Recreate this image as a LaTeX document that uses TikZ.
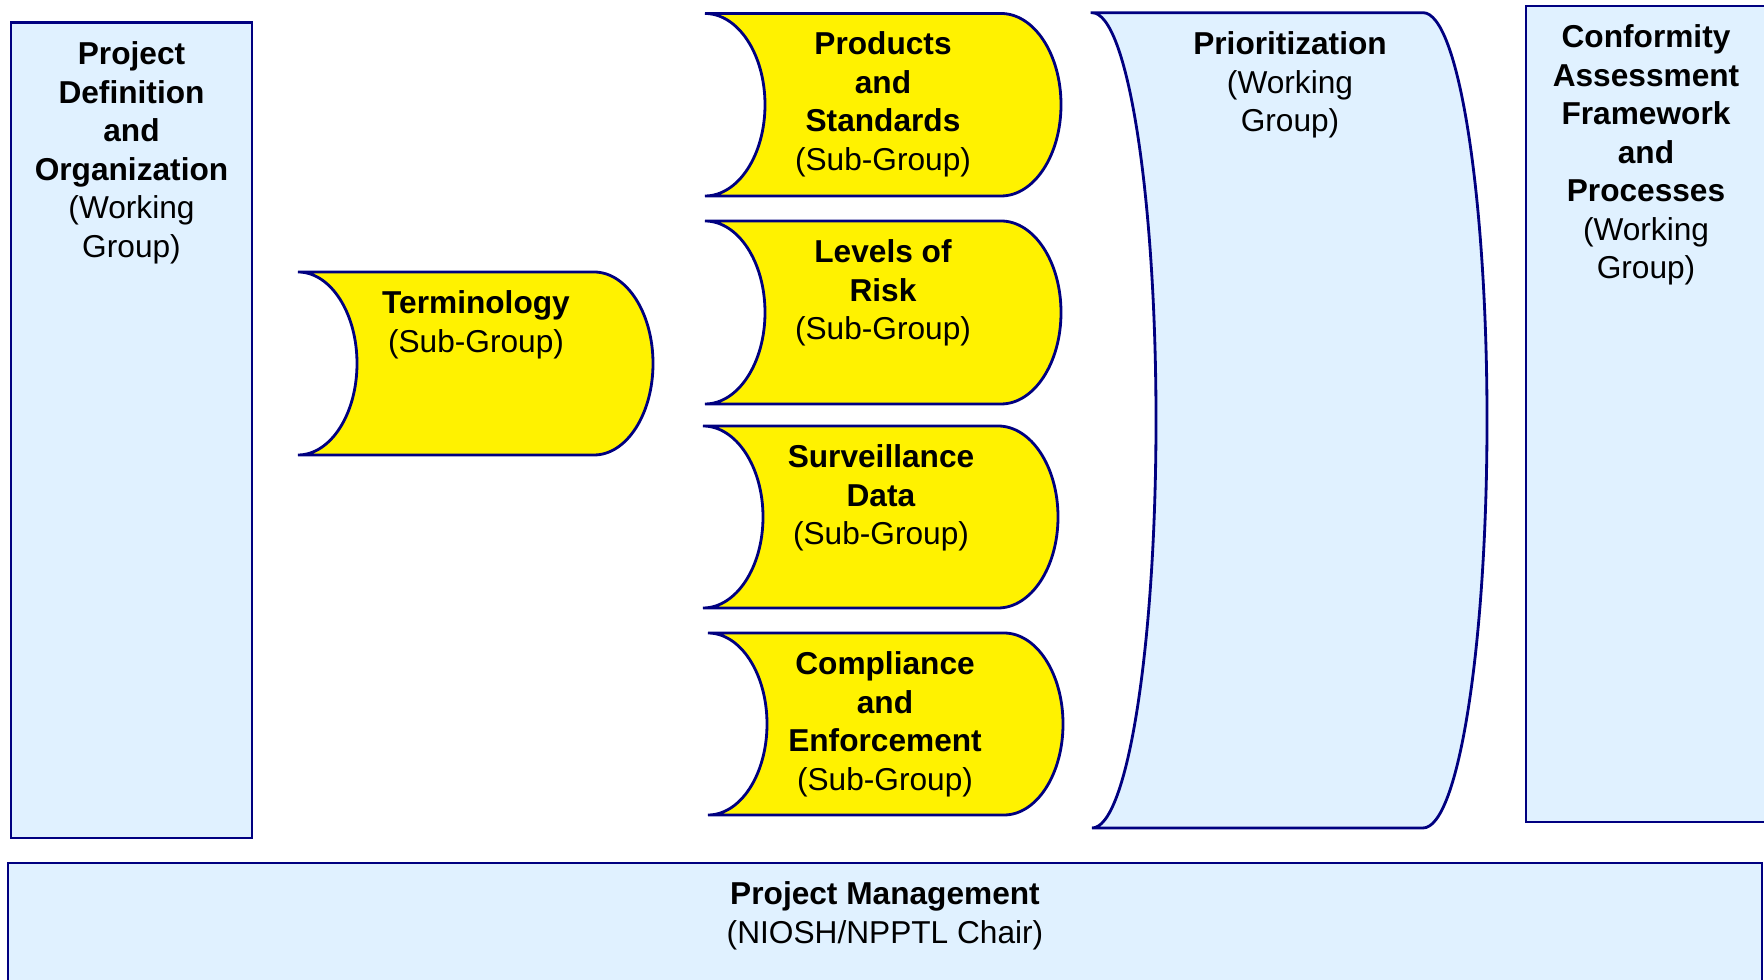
\documentclass[tikz,border=0pt]{standalone}
\usepackage{fontspec}
\setmainfont{Liberation Sans}
\usetikzlibrary{calc}
\definecolor{paleblue}{RGB}{224, 241, 255}
\definecolor{navyline}{RGB}{0, 0, 128}

% stored-data outline: style, left x, top y, start of round end, bottom y, curve depth
\newcommand{\datablock}[6]{%
  \draw[#1] (#2,#3) -- (#4,#3)
    arc[start angle=-90, end angle=90, x radius=#6, y radius={(#5-#3)/2}]
    -- (#2,#5)
    arc[start angle=90, end angle=-90, x radius=#6, y radius={(#5-#3)/2}]
    -- cycle;}

\begin{document}
\begin{tikzpicture}[x=0.01cm, y=-0.01cm]

\tikzstyle{yellow-b} = [draw=navyline, line width=0.8pt, fill=yellow]
\tikzstyle{blue-b} = [draw=navyline, line width=0.8pt, fill=paleblue]
\tikzstyle{group-t} = [anchor=north, align=center, inner sep=0,
font=\fontsize{9pt}{10.95pt}\selectfont]

\useasboundingbox (0,0) rectangle (1764,980);
\fill[white] (0,0) rectangle (1764,980);
\clip (0,0) rectangle (1764,980);

\draw[blue-b] (11,22.5) rectangle (252,838);
\node[group-t] (definition) at (131.5,41) {\textbf{Project}\\\textbf{Definition}\\\textbf{and}\\\textbf{Organization}\\(Working\\Group)};

\datablock{yellow-b}{298}{272}{594}{455}{59}
\node[group-t] (terminology) at (476,290) {\textbf{Terminology}\\(Sub-Group)};

\datablock{yellow-b}{705}{13.5}{1001}{196}{60}
\node[group-t] (products) at (883,31) {\textbf{Products}\\\textbf{and}\\\textbf{Standards}\\(Sub-Group)};

\datablock{yellow-b}{705}{221}{1001}{404}{60}
\node[group-t] (risk) at (883,239) {\textbf{Levels of}\\\textbf{Risk}\\(Sub-Group)};

\datablock{yellow-b}{703}{426}{998}{608}{60}
\node[group-t] (surveillance) at (881,444) {\textbf{Surveillance}\\\textbf{Data}\\(Sub-Group)};

\datablock{yellow-b}{708}{633}{1004}{815}{59}
\node[group-t] (compliance) at (885,651) {\textbf{Compliance}\\\textbf{and}\\\textbf{Enforcement}\\(Sub-Group)};

\datablock{blue-b}{1092}{12.7}{1423}{828}{64}
\node[group-t] (prioritization) at (1290,31) {\textbf{Prioritization}\\(Working\\Group)};

\draw[blue-b] (1526,6) rectangle (1766,822);
\node[group-t] (conformity) at (1646,24) {\textbf{Conformity}\\\textbf{Assessment}\\\textbf{Framework}\\\textbf{and}\\\textbf{Processes}\\(Working\\Group)};

\draw[blue-b] (8,863) rectangle (1762,1000);
\node[group-t] (management) at (885,881) {\textbf{Project Management}\\(NIOSH/NPPTL Chair)};

\end{tikzpicture}
\end{document}
